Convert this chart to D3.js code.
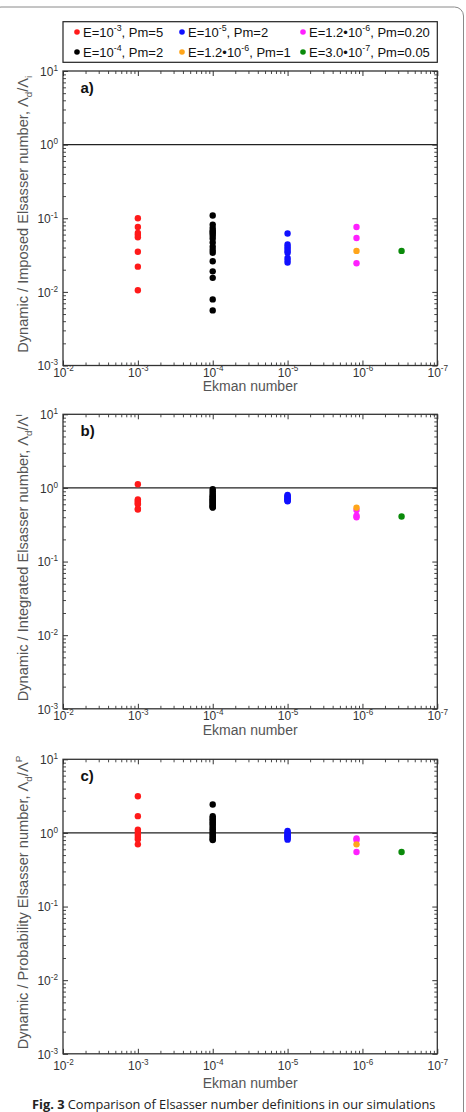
<!DOCTYPE html>
<html><head><meta charset="utf-8">
<script src="https://cdn.jsdelivr.net/npm/d3@7"></script>
<style>html,body{margin:0;padding:0;background:#fff;overflow:hidden}</style>
</head><body>
<svg id="chart" width="466" height="1112"></svg>
<script>
// ---- data ----
const seriesLabels = [
  [{t:"E=10"},{t:"-3",sup:1},{t:", Pm=5"}],
  [{t:"E=10"},{t:"-4",sup:1},{t:", Pm=2"}],
  [{t:"E=10"},{t:"-5",sup:1},{t:", Pm=2"}],
  [{t:"E=1.2•10"},{t:"-6",sup:1},{t:", Pm=0.20"}],
  [{t:"E=1.2•10"},{t:"-6",sup:1},{t:", Pm=1"}],
  [{t:"E=3.0•10"},{t:"-7",sup:1},{t:", Pm=0.05"}]
];
const seriesEkman = [1e-3, 1e-4, 1e-5, 1.2e-6, 1.2e-6, 3.0e-7];
const seriesColors = ["#ff1a1a", "#000000", "#1010ff", "#ff20ff", "#ffa51a", "#0a8a0a"];

const imposedRed = [0.10, 0.076, 0.063, 0.059, 0.055, 0.035, 0.022, 0.0105];
const imposedBlack = [0.109, 0.082, 0.074, 0.068, 0.065, 0.062, 0.058, 0.053, 0.047, 0.041, 0.037, 0.034, 0.026, 0.019, 0.0155, 0.0079, 0.0056];
const imposedBlue = [0.062, 0.044, 0.041, 0.0385, 0.036, 0.034, 0.029, 0.027, 0.025];
const imposedMagenta = [0.076, 0.054, 0.0245];
const imposedOrange = [0.036];
const imposedGreen = [0.036];

const integratedRed = [1.12, 0.70, 0.67, 0.65, 0.62, 0.60, 0.52, 0.51];
const integratedBlack = [0.96, 0.90, 0.85, 0.80, 0.77, 0.75, 0.72, 0.70, 0.68, 0.66, 0.64, 0.62, 0.60, 0.58, 0.56, 0.55, 0.54];
const integratedBlue = [0.80, 0.78, 0.76, 0.74, 0.72, 0.70, 0.69, 0.67, 0.66];
const integratedMagenta = [0.50, 0.42, 0.40];
const integratedOrange = [0.54];
const integratedGreen = [0.41];

const probRed = [3.15, 1.69, 1.11, 1.03, 0.95, 0.88, 0.82, 0.70];
const probBlack = [2.43, 1.69, 1.60, 1.52, 1.45, 1.38, 1.32, 1.25, 1.18, 1.12, 1.06, 1.00, 0.95, 0.90, 0.86, 0.82, 0.80];
const probBlue = [1.06, 1.02, 0.98, 0.95, 0.92, 0.90, 0.87, 0.84, 0.81];
const probMagenta = [0.84, 0.80, 0.55];
const probOrange = [0.70];
const probGreen = [0.55];

const xTickExponents = ["-2", "-3", "-4", "-5", "-6", "-7"];
const yTickExponents = ["-3", "-2", "-1", "0", "1"];
const panelLetters = ["a)", "b)", "c)"];
const yTitles = [
  [{t:"Dynamic / Imposed Elsasser number, Λ"},{t:"d",sub:1},{t:"/Λ"},{t:"i",sub:1}],
  [{t:"Dynamic / Integrated Elsasser number, Λ"},{t:"d",sub:1},{t:"/Λ"},{t:"I",sup:1}],
  [{t:"Dynamic / Probability Elsasser number, Λ"},{t:"d",sub:1},{t:"/Λ"},{t:"P",sup:1}]
];
const xTitle = "Ekman number";
const referenceValue = 1;
const captionBold = "Fig. 3";
const captionText = " Comparison of Elsasser number definitions in our simulations";

const panels = [
  [imposedRed, imposedBlack, imposedBlue, imposedMagenta, imposedOrange, imposedGreen],
  [integratedRed, integratedBlack, integratedBlue, integratedMagenta, integratedOrange, integratedGreen],
  [probRed, probBlack, probBlue, probMagenta, probOrange, probGreen]
];

// ---- layout ----
const svg = d3.select("#chart");
const FONT = "'Liberation Sans', Arial, Helvetica, sans-serif";
const left = 63, right = 437.3;
const panelTops = [71, 414.3, 759.3];
const panelH = 294.5;
const tickLabelBase = [11, 11, 16];
const titleOffset = [21, 21, 29];

// rich text with super/subscripts; baseDy shifts the whole line (px)
function rich(sel, parts, size, baseDy) {
  let shift = -(baseDy || 0);
  parts.forEach(p => {
    const ts = sel.append("tspan").text(p.t);
    let target = 0;
    if (p.sup) { target = -0.42 * size; ts.attr("font-size", size * 0.68); }
    else if (p.sub) { target = 0.28 * size; ts.attr("font-size", size * 0.68); }
    ts.attr("dy", target - shift);
    shift = target;
  });
}

// outer frame
svg.append("rect").attr("x", -8).attr("y", 7).attr("width", 471.5).attr("height", 1200)
  .attr("rx", 9).attr("fill", "none").attr("stroke", "#8a8a8a").attr("stroke-width", 1);

const x = d3.scaleLog().domain([1e-2, 1e-7]).range([left, right]);
const xMajor = xTickExponents.map(e => Math.pow(10, +e));
const xMinor = [];
for (let d = 2; d <= 6; d++) for (let k = 2; k <= 9; k++) xMinor.push(Math.pow(10, -d) / k);

panels.forEach((series, pi) => {
  const top = panelTops[pi], bottom = top + panelH;
  const y = d3.scaleLog().domain([1e-3, 10]).range([bottom, top]);
  const yMajor = yTickExponents.map(e => Math.pow(10, +e));
  const yMinor = [];
  for (let d = -3; d <= 0; d++) for (let k = 2; k <= 9; k++) yMinor.push(k * Math.pow(10, d));
  const g = svg.append("g");

  // reference line
  g.append("line").attr("x1", left).attr("x2", right)
    .attr("y1", y(referenceValue)).attr("y2", y(referenceValue))
    .attr("stroke", "#222").attr("stroke-width", 1.3);

  // axes with inward ticks on all four sides
  const axes = [
    [() => d3.axisBottom(x), `translate(0,${bottom})`, xMajor, xMinor],
    [() => d3.axisTop(x), `translate(0,${top})`, xMajor, xMinor],
    [() => d3.axisLeft(y), `translate(${left},0)`, yMajor, yMinor],
    [() => d3.axisRight(y), `translate(${right},0)`, yMajor, yMinor]
  ];
  axes.forEach(([mk, tr, maj, min]) => {
    const gm = g.append("g").attr("transform", tr)
      .call(mk().tickValues(min).tickSizeInner(-3).tickSizeOuter(0).tickFormat(""));
    gm.select(".domain").remove();
    gm.selectAll("line").attr("stroke", "#333").attr("stroke-width", 0.9);
    const gM = g.append("g").attr("transform", tr)
      .call(mk().tickValues(maj).tickSizeInner(-5).tickSizeOuter(0).tickFormat(""));
    gM.select(".domain").remove();
    gM.selectAll("line").attr("stroke", "#333").attr("stroke-width", 1);
  });

  // frame
  g.append("rect").attr("x", left).attr("y", top).attr("width", right - left).attr("height", panelH)
    .attr("fill", "none").attr("stroke", "#333").attr("stroke-width", 1.3);

  // tick labels
  const xl = g.append("g").attr("transform", `translate(0,${bottom + tickLabelBase[pi]})`)
    .call(d3.axisBottom(x).tickValues(xMajor).tickSize(0).tickPadding(0).tickFormat(""));
  xl.select(".domain").remove();
  xl.selectAll(".tick text").each(function(d, i) {
    const t = d3.select(this).attr("dy", null).attr("y", 0)
      .attr("font-family", FONT).attr("font-size", 12).attr("fill", "#333");
    rich(t, [{t:"10"},{t:xTickExponents[i], sup:1}], 12, 0);
  });
  const yl = g.append("g").attr("transform", `translate(${left},0)`)
    .call(d3.axisLeft(y).tickValues(yMajor).tickSize(0).tickPadding(5).tickFormat(""));
  yl.select(".domain").remove();
  yl.selectAll(".tick text").each(function(d, i) {
    const t = d3.select(this).attr("dy", null)
      .attr("font-family", FONT).attr("font-size", 12).attr("fill", "#333");
    rich(t, [{t:"10"},{t:yTickExponents[i], sup:1}], 12, 4.3);
  });

  // titles
  g.append("text").attr("x", (left + right) / 2).attr("y", bottom + titleOffset[pi])
    .attr("text-anchor", "middle").attr("dy", "0.35em")
    .attr("font-family", FONT).attr("font-size", 14).attr("fill", "#555").text(xTitle);
  const yt = g.append("text")
    .attr("transform", `translate(23,${(top + bottom) / 2 - 4}) rotate(-90)`)
    .attr("text-anchor", "middle")
    .attr("font-family", FONT).attr("font-size", 14.6).attr("fill", "#555");
  rich(yt, yTitles[pi], 14.6, 5);

  g.append("text").attr("x", 80.5).attr("y", top + 22)
    .attr("font-family", FONT).attr("font-size", 15).attr("font-weight", "bold")
    .attr("fill", "#111").text(panelLetters[pi]);

  // points
  series.forEach((vals, si) => {
    g.append("g").selectAll("circle").data(vals).join("circle")
      .attr("cx", x(seriesEkman[si])).attr("cy", d => y(d)).attr("r", 3.2)
      .attr("fill", seriesColors[si]);
  });
});

// legend
const lg = svg.append("g");
lg.append("rect").attr("x", left).attr("y", 21.7).attr("width", right - left).attr("height", 40.6)
  .attr("fill", "#fff").attr("stroke", "#222").attr("stroke-width", 1.2);
const legCols = [77, 182, 303];
const legRows = [32, 52];
const legOrder = [[0, 2, 3], [1, 4, 5]];
legOrder.forEach((row, ri) => row.forEach((si, ci) => {
  lg.append("circle").attr("cx", legCols[ci]).attr("cy", legRows[ri]).attr("r", 2.8).attr("fill", seriesColors[si]);
  const t = lg.append("text").attr("x", legCols[ci] + 6).attr("y", legRows[ri])
    .attr("font-family", FONT).attr("font-size", 13).attr("fill", "#111");
  rich(t, seriesLabels[si], 13, 4.7);
}));

// caption
const cap = svg.append("text").attr("x", 32).attr("y", 1108.5)
  .attr("font-family", "'Open Sans', 'Noto Sans', sans-serif").attr("font-size", 12.8).attr("fill", "#222");
cap.append("tspan").attr("font-weight", "bold").text(captionBold);
cap.append("tspan").text(captionText);
</script>
</body></html>
